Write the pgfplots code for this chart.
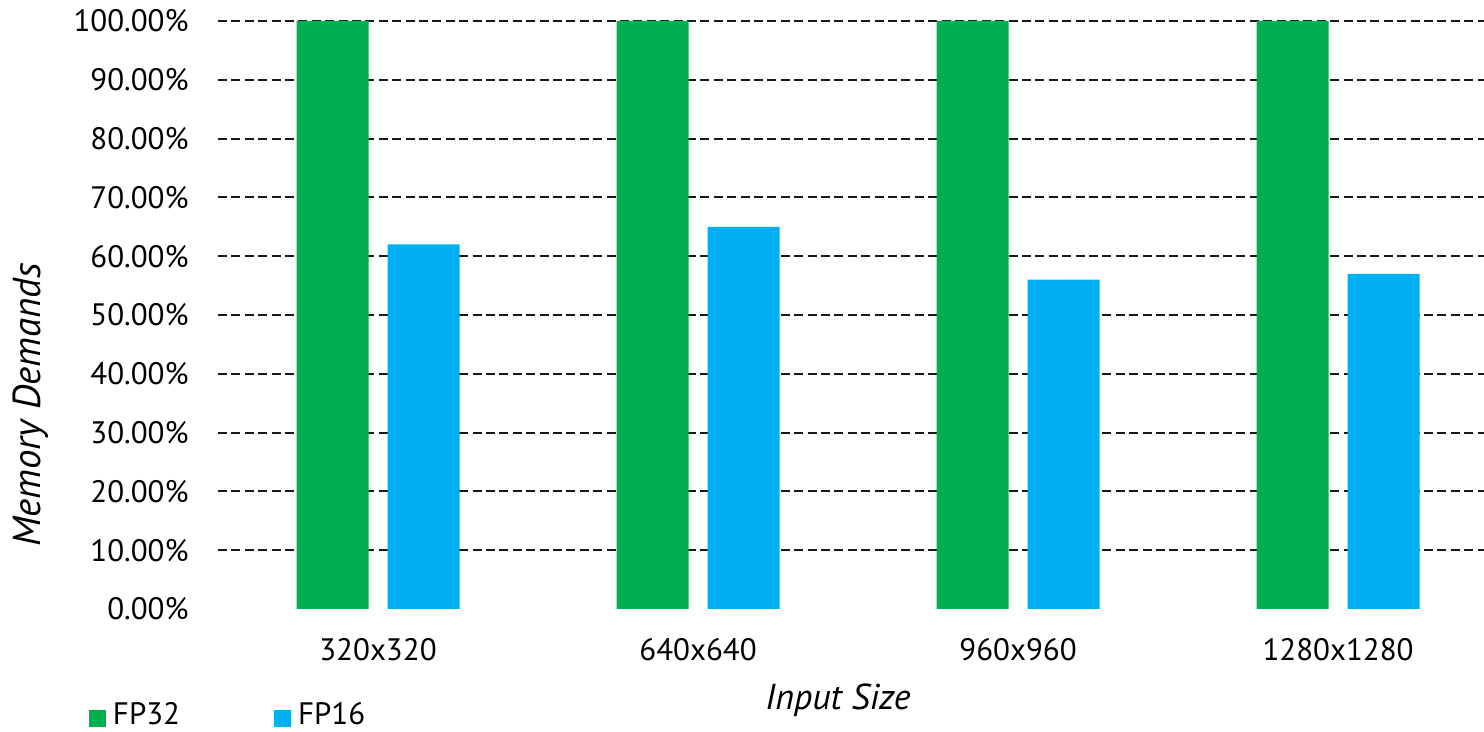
\documentclass[border=0pt]{standalone}
\usepackage{pgfplots}
\pgfplotsset{compat=1.18}
\usepackage{fontspec}
\setmainfont{PT Sans}
\definecolor{fpgreen}{RGB}{0,176,80}
\definecolor{fpblue}{RGB}{0,176,240}
\begin{document}
\begin{tikzpicture}
\begin{axis}[
  at={(0,0)}, anchor=south west,
  scale only axis, width=633pt, height=294pt,
  xmin=-0.5, xmax=3.456, ymin=0, ymax=100,
  ybar, bar width=36pt,
  xtick={0,1,2,3},
  xticklabels={320x320,640x640,960x960,1280x1280},
  ytick={10,20,30,40,50,60,70,80,90,100},
  yticklabels={10.00\%,20.00\%,30.00\%,40.00\%,50.00\%,60.00\%,70.00\%,80.00\%,90.00\%,100.00\%},
  extra y ticks={0}, extra y tick labels={0.00\%},
  extra y tick style={grid=none},
  ymajorgrids,
  major grid style={black!90, line width=1pt, dash pattern=on 4.5pt off 2.2pt},
  axis line style={draw=none}, major tick length=0pt,
  tick label style={font=\fontsize{15.5}{18}\selectfont, inner sep=0pt},
  yticklabel style={anchor=east, xshift=-14.5pt},
  xticklabel style={anchor=center, yshift=-20.5pt},
  xlabel={Input Size}, ylabel={Memory Demands},
  label style={inner sep=0pt},
  xlabel style={font=\fontsize{18}{21}\selectfont\itshape,
    at={(rel axis cs:0.4897,0)}, anchor=base, yshift=-50.5pt},
  ylabel style={font=\fontsize{19.5}{22}\selectfont\itshape,
    at={(rel axis cs:-0.1406,0.347)}, anchor=base},
  legend columns=2,
  legend style={at={(rel axis cs:-0.1019,-0.1803)}, anchor=west,
    draw=none, fill=none, inner sep=0pt, outer sep=0pt,
    font=\fontsize{15.5}{18}\selectfont,
    nodes={inner sep=0pt, outer sep=0pt},
    /tikz/every odd column/.append style={column sep=3.5pt},
    /tikz/every even column/.append style={column sep=47pt}},
]
% FP32 baseline: full memory footprint
\addplot[fill=fpgreen, draw=none, bar shift=-22.75pt,
  legend image code/.code={\fill[fpgreen] (0pt,-6pt) rectangle (8.5pt,2.5pt);}]
  coordinates {(0,100) (1,100) (2,100) (3,100)};
% FP16 relative footprint
\addplot[fill=fpblue, draw=none, bar shift=22.75pt,
  legend image code/.code={\fill[fpblue] (0pt,-6pt) rectangle (8.5pt,2.5pt);}]
  coordinates {(0,62) (1,65) (2,56) (3,57)};
\legend{FP32,FP16}
\end{axis}
\pgfresetboundingbox
\path[use as bounding box] (-109pt,-61.5pt) rectangle (633pt,304.5pt);
\end{tikzpicture}
\end{document}
